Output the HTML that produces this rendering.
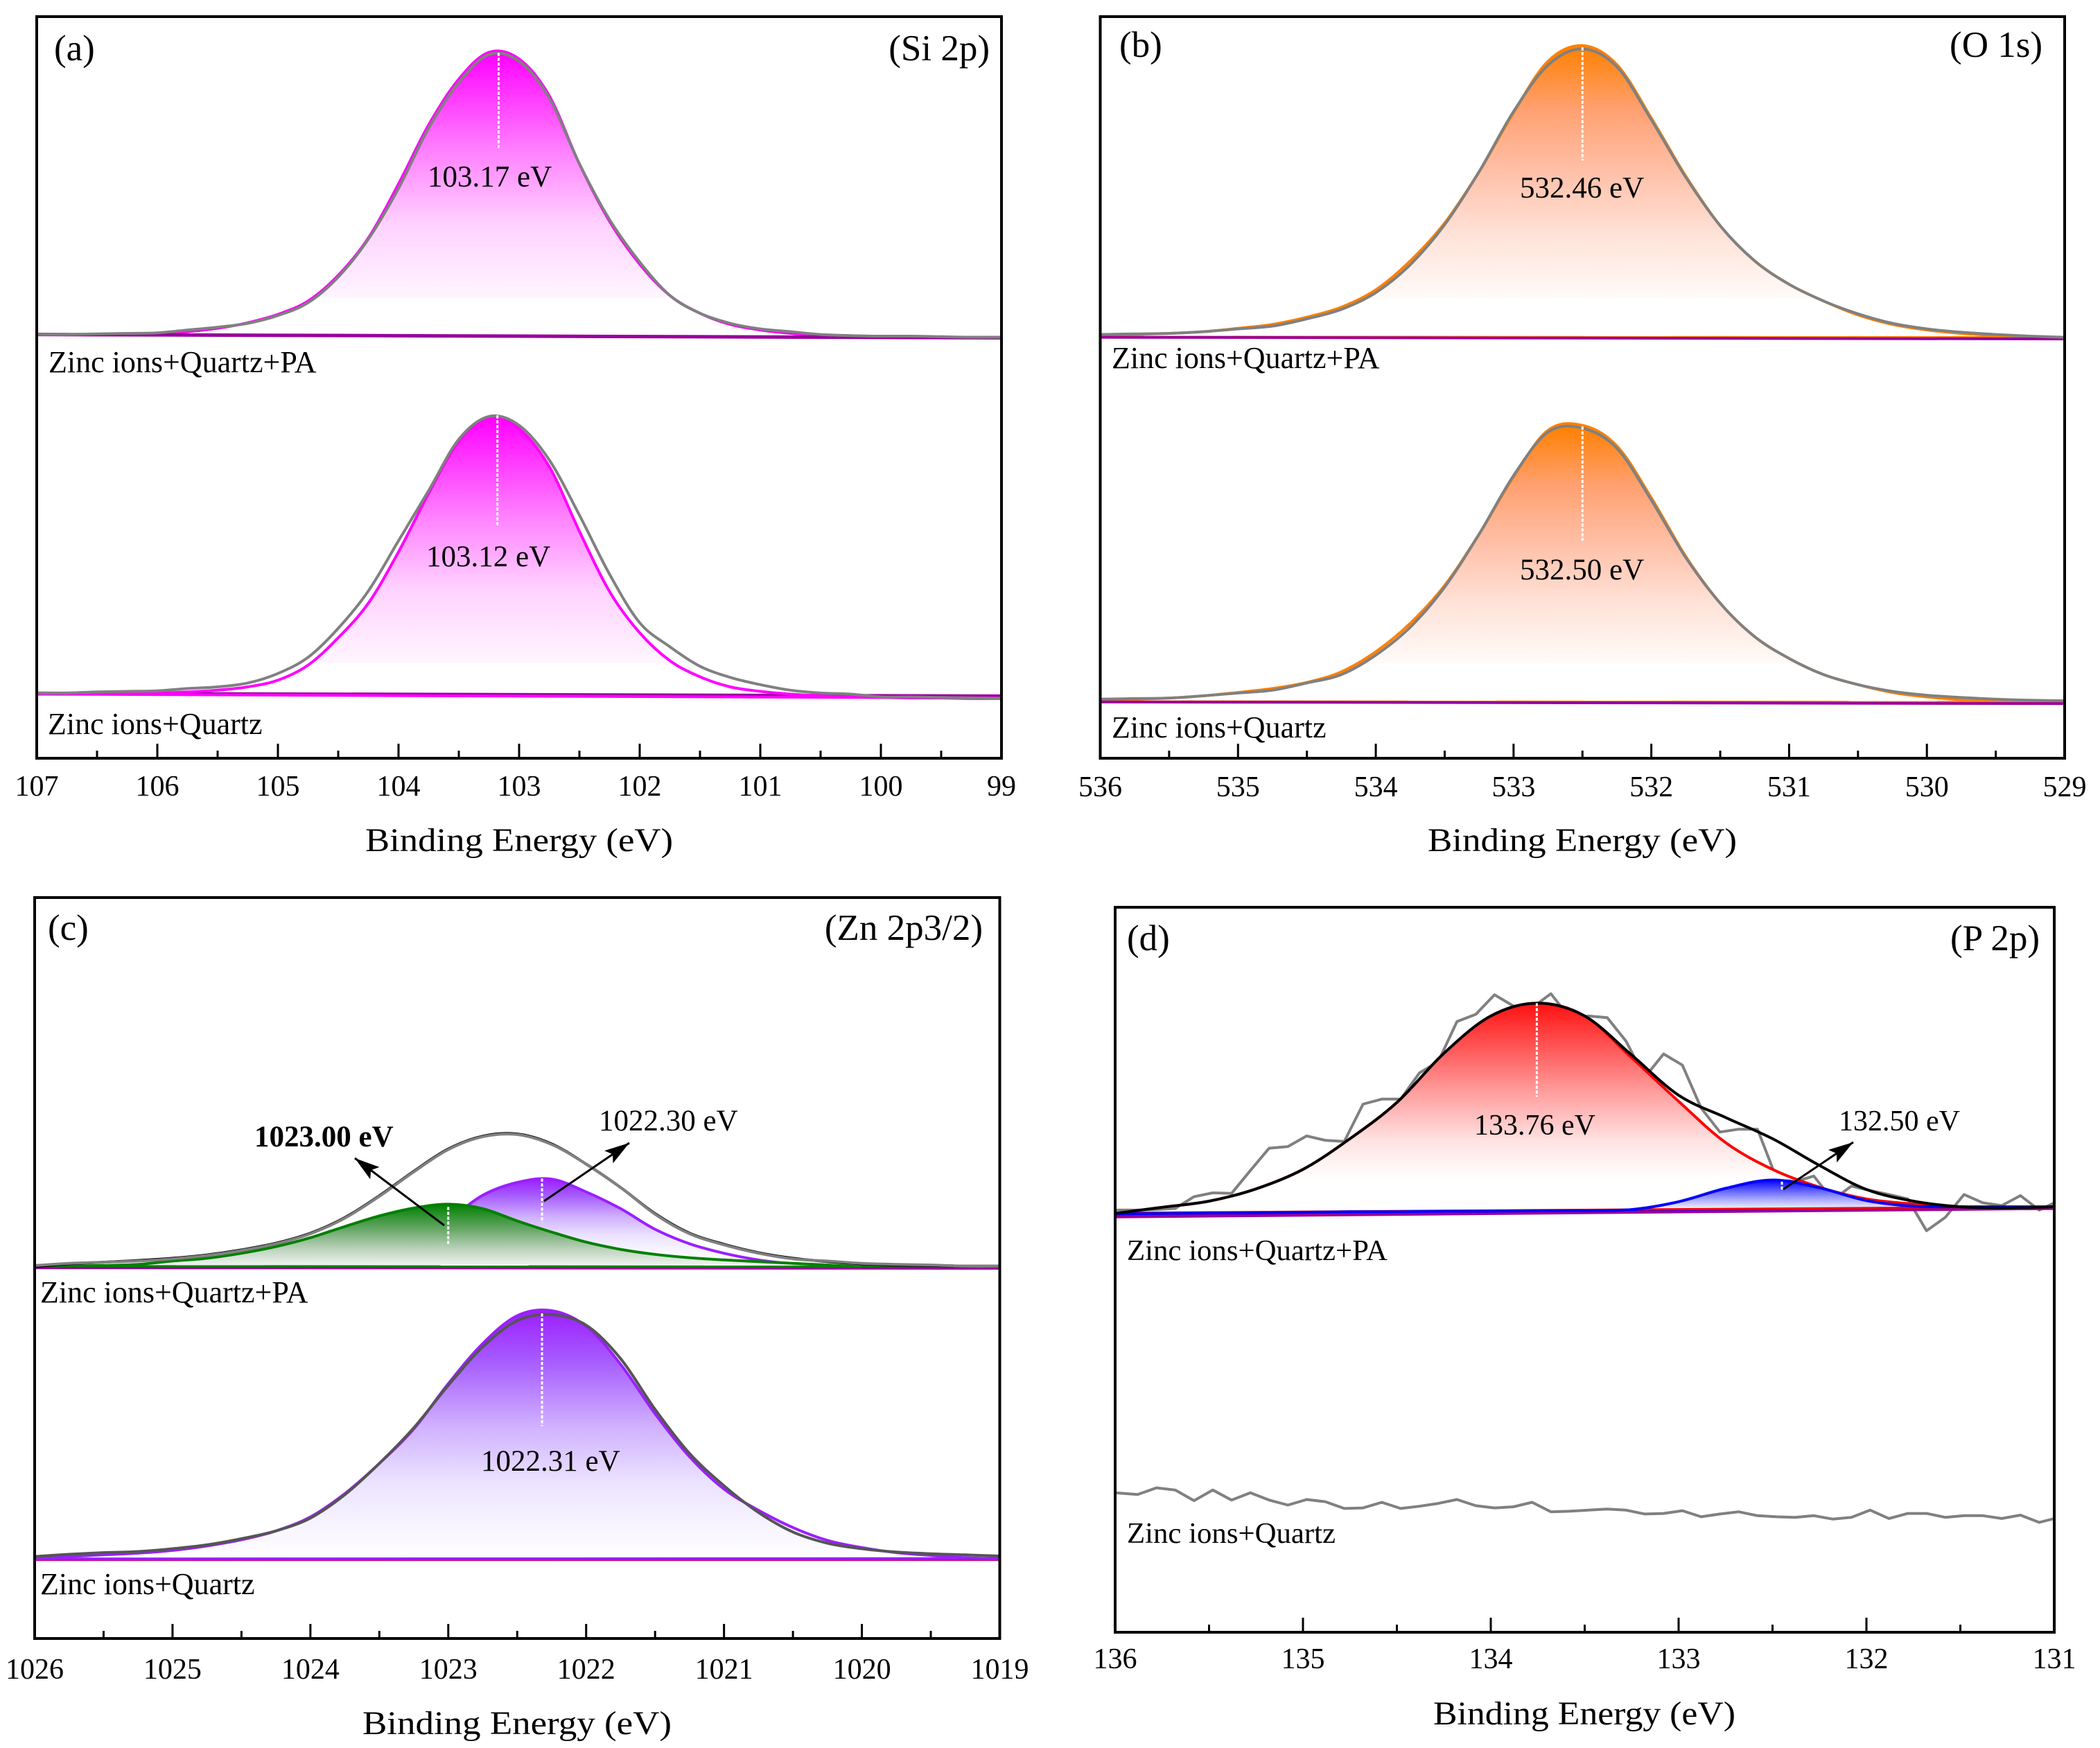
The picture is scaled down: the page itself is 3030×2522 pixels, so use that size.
<!DOCTYPE html>
<html lang="en">
<head>
<meta charset="utf-8">
<title>XPS spectra of zinc ions on quartz with and without PA</title>
<style>
html,body{margin:0;padding:0;background:#fff;}
svg{display:block;}
text{font-family:"Liberation Serif","Times New Roman",serif;fill:#000;}
.lab{font-size:44px;}
.lab-d{font-size:42.8px;}
.val{font-size:43px;}
.val-d{font-size:42px;}
.tag{font-size:53px;}
.tick{font-size:42px;text-anchor:middle;}
.axt{font-size:48px;text-anchor:middle;}
</style>
</head>
<body>
<svg id="figure" xmlns="http://www.w3.org/2000/svg" width="3030" height="2522" viewBox="0 0 3030 2522">
  <defs>
    <marker id="arrowhead" viewBox="0 0 36 22" refX="36" refY="11" markerWidth="36" markerHeight="22" markerUnits="userSpaceOnUse" orient="auto">
      <path d="M0,0 L36,11 L0,22 L7,11 z" fill="#000"/>
    </marker>
  </defs>
  <rect x="0" y="0" width="3030" height="2522" fill="#fff"/>
  <g id="marks"></g>

  <!-- panel a -->
  <text class="tag" x="78" y="87">(a)</text>
  <text class="tag" x="1428" y="87" text-anchor="end">(Si 2p)</text>
  <text class="val" x="617" y="269">103.17 eV</text>
  <text class="val" x="615" y="817">103.12 eV</text>
  <text class="lab" x="70" y="537">Zinc ions+Quartz+PA</text>
  <text class="lab" x="69" y="1059">Zinc ions+Quartz</text>
  <text class="axt" x="749" y="1228" textLength="444" lengthAdjust="spacingAndGlyphs">Binding Energy (eV)</text>

  <!-- panel b -->
  <text class="tag" x="1615" y="82">(b)</text>
  <text class="tag" x="2947" y="82" text-anchor="end">(O 1s)</text>
  <text class="val" x="2193" y="285">532.46 eV</text>
  <text class="val" x="2193" y="836">532.50 eV</text>
  <text class="lab" x="1604" y="531">Zinc ions+Quartz+PA</text>
  <text class="lab" x="1604" y="1064">Zinc ions+Quartz</text>
  <text class="axt" x="2283" y="1228" textLength="446" lengthAdjust="spacingAndGlyphs">Binding Energy (eV)</text>

  <!-- panel c -->
  <text class="tag" x="69" y="1356">(c)</text>
  <text class="tag" x="1418" y="1356" text-anchor="end">(Zn 2p3/2)</text>
  <text class="val" font-weight="bold" x="367" y="1654">1023.00 eV</text>
  <text class="val" x="864" y="1631">1022.30 eV</text>
  <text class="val" x="694" y="2122">1022.31 eV</text>
  <text class="lab" x="58" y="1879">Zinc ions+Quartz+PA</text>
  <text class="lab" x="58" y="2300">Zinc ions+Quartz</text>
  <text class="axt" x="746" y="2502" textLength="446" lengthAdjust="spacingAndGlyphs">Binding Energy (eV)</text>
  <line x1="641" y1="1768" x2="512" y2="1671" stroke="#000" stroke-width="3" marker-end="url(#arrowhead)"/>
  <line x1="785" y1="1733" x2="908" y2="1649" stroke="#000" stroke-width="3" marker-end="url(#arrowhead)"/>

  <!-- panel d -->
  <text class="tag" x="1626" y="1371">(d)</text>
  <text class="tag" x="2943" y="1371" text-anchor="end">(P 2p)</text>
  <text class="val-d" x="2127" y="1637">133.76 eV</text>
  <text class="val-d" x="2653" y="1631">132.50 eV</text>
  <text class="lab-d" x="1626" y="1818">Zinc ions+Quartz+PA</text>
  <text class="lab-d" x="1626" y="2226">Zinc ions+Quartz</text>
  <text class="axt" x="2286" y="2488" textLength="436" lengthAdjust="spacingAndGlyphs">Binding Energy (eV)</text>
  <line x1="2573" y1="1716" x2="2674" y2="1648" stroke="#000" stroke-width="3" marker-end="url(#arrowhead)"/>
</svg>

<script>
/* ---------- panel a: Si 2p ---------- */
const aEnergies = [107,106.75,106.5,106.25,106,105.75,105.5,105.25,105,104.75,104.5,104.25,104,103.75,103.5,103.25,103,102.75,102.5,102.25,102,101.75,101.5,101.25,101,100.75,100.5,100.25,100,99.75,99.5,99.25,99];
const aPaRaw = [760,760,761,762,763,768,773,780,794,817,863,931,1022,1130,1212,1262,1250,1184,1066,966,890,830,798,780,770,765,760,758,757,757,756,755,755];
const aPaFit = [760,760,760,761,762,765,771,781,796,820,866,933,1030,1136,1218,1266,1254,1188,1066,963,886,830,798,778,768,762,758,757,756,756,755,755,755];
const aQzRaw = [117,117,119,120,121,125,128,135,152,181,233,300,390,480,572,613,597,535,436,330,243,200,165,145,132,122,117,115,110,110,109,108,107];
const aQzFit = [117,117,117,117,117,119,122,128,140,167,216,278,370,475,568,612,591,523,407,299,225,175,146,128,120,115,112,110,109,108,108,107,107];
const aTicks = [107,106,105,104,103,102,101,100,99];

/* ---------- panel b: O 1s ---------- */
const bEnergies = [536,535.75,535.5,535.25,535,534.75,534.5,534.25,534,533.75,533.5,533.25,533,532.75,532.5,532.25,532,531.75,531.5,531.25,531,530.75,530.5,530.25,530,529.75,529.5,529.25,529];
const bPaRaw = [760,761,762,765,770,775,788,805,835,885,957,1052,1160,1243,1272,1240,1145,1042,955,892,850,820,797,780,770,764,760,757,755];
const bPaFit = [758,760,762,765,771,778,791,809,840,892,960,1052,1158,1250,1278,1244,1148,1044,955,892,850,820,795,778,768,762,758,755,754];
const bQzRaw = [106,107,108,112,117,122,135,150,185,235,307,402,507,585,592,556,463,360,278,218,179,150,132,120,113,109,106,104,103];
const bQzFit = [104,106,108,112,118,125,136,155,191,242,310,402,505,588,597,560,467,362,278,218,179,150,132,118,110,105,102,100,99];
const bTicks = [536,535,534,533,532,531,530,529];

/* ---------- panel c: Zn 2p3/2 ---------- */
const cEnergies = [1026,1025.75,1025.5,1025.25,1025,1024.75,1024.5,1024.25,1024,1023.75,1023.5,1023.25,1023,1022.75,1022.5,1022.25,1022,1021.75,1021.5,1021.25,1021,1020.75,1020.5,1020.25,1020,1019.75,1019.5,1019.25,1019];
const cPaRaw = [669,673,675,677,681,687,696,708,726,754,793,837,877,900,904,886,851,809,761,726,706,691,681,677,673,671,670,668,668];
const cPaFit = [667,672,675,678,682,688,697,709,727,755,794,838,878,901,905,887,851,809,762,727,707,692,682,676,672,670,669,668,668];
const cPaViolet = [666,666,666,666,666,667,668,669,672,678,691,716,751,795,818,824,801,771,734,708,691,679,672,668,666,666,666,666,666];
const cPaGreen = [667,668,669,671,677,682,691,703,719,739,758,772,779,771,749,729,711,698,689,683,679,676,673,670,667,666,666,666,666];
const cQzRaw = [147,151,154,156,161,168,179,193,216,258,314,378,454,523,570,581,562,502,411,332,274,226,191,171,161,155,152,150,148];
const cQzFit = [143,147,150,153,158,166,177,193,218,260,314,376,457,529,579,588,560,492,403,326,268,230,199,176,163,154,149,145,143];
const cTicks = [1026,1025,1024,1023,1022,1021,1020,1019];

/* ---------- panel d: P 2p ---------- */
const dRawEnergies = [136,135.88,135.78,135.68,135.58,135.48,135.38,135.28,135.18,135.08,134.98,134.88,134.78,134.68,134.58,134.48,134.38,134.28,134.18,134.08,133.98,133.88,133.78,133.68,133.58,133.48,133.38,133.28,133.18,133.08,132.98,132.88,132.78,132.68,132.58,132.48,132.38,132.28,132.18,132.08,131.98,131.88,131.78,131.68,131.58,131.48,131.38,131.28,131.18,131.08,131];
const dPaRaw = [757,757,758,760,781,788,787,828,868,871,890,882,880,947,956,956,1003,1023,1095,1108,1143,1123,1120,1145,1102,1105,1102,1060,995,1037,1017,940,897,902,902,815,808,818,775,800,792,785,777,720,744,785,770,765,783,757,770];
const dQzRaw = [250,247,259,255,236,255,237,250,237,228,238,234,222,223,233,222,226,231,238,227,223,225,233,216,217,219,221,219,212,213,218,207,212,216,209,207,206,209,203,206,219,204,213,213,206,209,209,204,210,197,204];
const dFitEnergies = [136,135.75,135.5,135.25,135,134.75,134.5,134.25,134,133.75,133.5,133.25,133,132.75,132.5,132.25,132,131.75,131.5,131.25,131];
const dPaEnvelope = [751,762,773,795,830,885,950,1038,1105,1128,1105,1035,963,923,885,837,794,773,763,761,763];
const dPaRed = [751,762,773,795,830,885,950,1038,1105,1128,1105,1030,952,878,830,798,777,768,763,761,763];
const dPaBlue = [750,751,752,752,753,754,754,755,755,756,756,758,772,796,811,797,774,764,763,763,763];
const dTicks = [136,135,134,133,132,131];

/* ---------- fill colour ramps ---------- */
const magentaRamp = [[0,'#ff00ff'],[0.4,'#ff80ff'],[0.7,'#ffd2ff'],[1,'#fff6ff']];
const orangeRamp = [[0,'#ff8000'],[0.25,'#ffa070'],[0.5,'#ffc0a8'],[0.75,'#ffe2d8'],[1,'#fffbf9']];
const violetRamp = [[0,'#9b1fff'],[0.22,'#a860ff'],[0.47,'#d0b0ff'],[0.7,'#ebe2ff'],[0.89,'#f8f5ff'],[1,'#fefdff']];
const greenRamp = [[0,'#008000'],[0.4,'#6aa86a'],[0.7,'#bcd2bc'],[1,'#f8faf8']];
const redRamp = [[0,'#ff1010'],[0.5,'#ff9c9c'],[0.78,'#ffe2e2'],[1,'#ffffff']];
const blueRamp = [[0,'#0000ff'],[0.5,'#8080ff'],[1,'#f0f0ff']];

/* ---------- panel frames and axis functions ---------- */
const panelA = {id:'a',left:53,right:1445,top:24,bottom:1094,eStart:107,eEnd:99,vMax:1330,tickBase:1148};
const panelB = {id:'b',left:1587.5,right:2979,top:24,bottom:1094,eStart:536,eEnd:529,vMax:1330,tickBase:1149};
const panelC = {id:'c',left:50,right:1442.5,top:1295,bottom:2364,eStart:1026,eEnd:1019,vMax:1329,tickBase:2422};
const panelD = {id:'d',left:1609,right:2964,top:1309,bottom:2355,eStart:136,eEnd:131,vMax:1300,tickBase:2407};

const SVG_NS = 'http://www.w3.org/2000/svg';
const svgRoot = document.getElementById('figure');
const defs = svgRoot.querySelector('defs');
const marks = document.getElementById('marks');

function xScale(p, e) {
  return p.left + (p.eStart - e) / (p.eStart - p.eEnd) * (p.right - p.left);
}
function yScale(p, v) {
  return p.bottom - v / p.vMax * (p.bottom - p.top);
}
function toPoints(p, energies, values) {
  return energies.map(function (e, i) { return [xScale(p, e), yScale(p, values[i])]; });
}
function smoothPath(pts) {
  let d = 'M' + pts[0][0].toFixed(1) + ',' + pts[0][1].toFixed(1);
  for (let i = 0; i < pts.length - 1; i++) {
    const p0 = pts[Math.max(i - 1, 0)];
    const p1 = pts[i];
    const p2 = pts[i + 1];
    const p3 = pts[Math.min(i + 2, pts.length - 1)];
    d += ' C' + (p1[0] + (p2[0] - p0[0]) / 6).toFixed(1) + ',' + (p1[1] + (p2[1] - p0[1]) / 6).toFixed(1) +
         ' ' + (p2[0] - (p3[0] - p1[0]) / 6).toFixed(1) + ',' + (p2[1] - (p3[1] - p1[1]) / 6).toFixed(1) +
         ' ' + p2[0].toFixed(1) + ',' + p2[1].toFixed(1);
  }
  return d;
}
function linePath(pts) {
  return 'M' + pts.map(function (q) { return q[0].toFixed(1) + ',' + q[1].toFixed(1); }).join(' L');
}

function drawCurve(p, name, energies, values, color, width, smooth) {
  const el = document.createElementNS(SVG_NS, 'path');
  
  
  const pts = toPoints(p, energies, values);
  el.setAttribute('d', smooth ? smoothPath(pts) : linePath(pts));
  el.setAttribute('fill', 'none');
  el.setAttribute('stroke', color);
  el.setAttribute('stroke-width', width);
  el.setAttribute('stroke-linejoin', 'round');
  marks.appendChild(el);
}

function drawFill(p, name, energies, values, floorValue, ramp) {
  const pts = toPoints(p, energies, values);
  const peak = Math.min.apply(null, pts.map(function (q) { return q[1]; }));
  const floorY = yScale(p, floorValue);
  const gradId = 'grad-' + name;
  const clipId = 'clip-' + name;
  const grad = document.createElementNS(SVG_NS, 'linearGradient');
  grad.setAttribute('id', gradId);
  grad.setAttribute('gradientUnits', 'userSpaceOnUse');
  grad.setAttribute('x1', 0);
  grad.setAttribute('x2', 0);
  grad.setAttribute('y1', peak);
  grad.setAttribute('y2', floorY);
  ramp.forEach(function (entry) {
    const stop = document.createElementNS(SVG_NS, 'stop');
    stop.setAttribute('offset', entry[0]);
    stop.setAttribute('stop-color', entry[1]);
    grad.appendChild(stop);
  });
  defs.appendChild(grad);
  const clip = document.createElementNS(SVG_NS, 'clipPath');
  clip.setAttribute('id', clipId);
  const r = document.createElementNS(SVG_NS, 'rect');
  r.setAttribute('x', p.left);
  r.setAttribute('y', peak - 5);
  r.setAttribute('width', p.right - p.left);
  r.setAttribute('height', floorY - peak + 5);
  clip.appendChild(r);
  defs.appendChild(clip);
  const el = document.createElementNS(SVG_NS, 'path');
  
  
  el.setAttribute('d', smoothPath(pts) + ' L' + p.right + ',' + (floorY + 10) + ' L' + p.left + ',' + (floorY + 10) + ' Z');
  el.setAttribute('fill', 'url(#' + gradId + ')');
  el.setAttribute('clip-path', 'url(#' + clipId + ')');
  marks.appendChild(el);
}

function drawDrop(p, name, energy, vTop, vBottom) {
  const el = document.createElementNS(SVG_NS, 'line');
  
  
  el.setAttribute('x1', xScale(p, energy));
  el.setAttribute('x2', xScale(p, energy));
  el.setAttribute('y1', yScale(p, vTop));
  el.setAttribute('y2', yScale(p, vBottom));
  el.setAttribute('stroke', '#fff');
  el.setAttribute('stroke-width', 3);
  el.setAttribute('stroke-dasharray', '4.5 2.5');
  marks.appendChild(el);
}

function drawBaseline(p, name, e0, e1, v0, v1, color, width) {
  const el = document.createElementNS(SVG_NS, 'line');
  
  
  el.setAttribute('x1', xScale(p, e0));
  el.setAttribute('x2', xScale(p, e1));
  el.setAttribute('y1', yScale(p, v0));
  el.setAttribute('y2', yScale(p, v1));
  el.setAttribute('stroke', color);
  el.setAttribute('stroke-width', width);
  marks.appendChild(el);
}

function drawAxes(p, ticks) {
  const frame = document.createElementNS(SVG_NS, 'rect');
  
  
  frame.setAttribute('x', p.left);
  frame.setAttribute('y', p.top);
  frame.setAttribute('width', p.right - p.left);
  frame.setAttribute('height', p.bottom - p.top);
  frame.setAttribute('fill', 'none');
  frame.setAttribute('stroke', '#000');
  frame.setAttribute('stroke-width', 4);
  marks.appendChild(frame);
  ticks.forEach(function (t, i) {
    const major = document.createElementNS(SVG_NS, 'line');
    
    
    major.setAttribute('x1', xScale(p, t));
    major.setAttribute('x2', xScale(p, t));
    major.setAttribute('y1', p.bottom);
    major.setAttribute('y2', p.bottom - 21);
    major.setAttribute('stroke', '#000');
    major.setAttribute('stroke-width', 3);
    marks.appendChild(major);
    const label = document.createElementNS(SVG_NS, 'text');
    
    
    label.setAttribute('class', 'tick');
    label.setAttribute('x', xScale(p, t));
    label.setAttribute('y', p.tickBase);
    label.textContent = String(t);
    marks.appendChild(label);
    if (i < ticks.length - 1) {
      const minor = document.createElementNS(SVG_NS, 'line');
      const mid = (t + ticks[i + 1]) / 2;
      
      
      minor.setAttribute('x1', xScale(p, mid));
      minor.setAttribute('x2', xScale(p, mid));
      minor.setAttribute('y1', p.bottom);
      minor.setAttribute('y2', p.bottom - 11);
      minor.setAttribute('stroke', '#000');
      minor.setAttribute('stroke-width', 3);
      marks.appendChild(minor);
    }
  });
}

/* ---------- draw panel a ---------- */
drawFill(panelA, 'a-pa-fit-fill', aEnergies, aPaFit, 825, magentaRamp);
drawCurve(panelA, 'a-pa-fit-line', aEnergies, aPaFit, '#ff00ff', 4, true);
drawBaseline(panelA, 'a-pa-baseline', 107, 99, 760, 754, '#99009c', 5);
drawCurve(panelA, 'a-pa-raw-line', aEnergies, aPaRaw, '#808080', 4, true);
drawDrop(panelA, 'a-pa-peak-marker', 103.17, 1265, 1092);
drawFill(panelA, 'a-quartz-fit-fill', aEnergies, aQzFit, 170, magentaRamp);
drawBaseline(panelA, 'a-quartz-baseline-dark', 107, 99, 117, 112, '#99009c', 4);
drawBaseline(panelA, 'a-quartz-baseline', 107, 99, 115, 108, '#ff00ff', 4);
drawCurve(panelA, 'a-quartz-fit-line', aEnergies, aQzFit, '#ff00ff', 4, true);
drawCurve(panelA, 'a-quartz-raw-line', aEnergies, aQzRaw, '#808080', 4, true);
drawDrop(panelA, 'a-quartz-peak-marker', 103.18, 615, 415);
drawAxes(panelA, aTicks);

/* ---------- draw panel b ---------- */
drawFill(panelB, 'b-pa-fit-fill', bEnergies, bPaFit, 825, orangeRamp);
drawCurve(panelB, 'b-pa-fit-line', bEnergies, bPaFit, '#ff8000', 4, true);
drawBaseline(panelB, 'b-pa-baseline-orange', 536, 529, 756, 755, '#ff8000', 3);
drawBaseline(panelB, 'b-pa-baseline', 536, 529, 755, 752, '#99009c', 4);
drawCurve(panelB, 'b-pa-raw-line', bEnergies, bPaRaw, '#808080', 4, true);
drawDrop(panelB, 'b-pa-peak-marker', 532.5, 1275, 1072);
drawFill(panelB, 'b-quartz-fit-fill', bEnergies, bQzFit, 170, orangeRamp);
drawCurve(panelB, 'b-quartz-fit-line', bEnergies, bQzFit, '#ff8000', 4, true);
drawBaseline(panelB, 'b-quartz-baseline-orange', 536, 529, 102, 101, '#ff8000', 3);
drawBaseline(panelB, 'b-quartz-baseline', 536, 529, 101, 98, '#99009c', 4);
drawCurve(panelB, 'b-quartz-raw-line', bEnergies, bQzRaw, '#808080', 4, true);
drawDrop(panelB, 'b-quartz-peak-marker', 532.5, 595, 390);
drawAxes(panelB, bTicks);

/* ---------- draw panel c ---------- */
drawFill(panelC, 'c-pa-violet-fill', cEnergies, cPaViolet, 680, violetRamp);
drawCurve(panelC, 'c-pa-violet-line', cEnergies, cPaViolet, '#9b1fff', 4, true);
drawDrop(panelC, 'c-pa-violet-peak-marker', 1022.32, 825, 746);
drawFill(panelC, 'c-pa-green-fill', cEnergies, cPaGreen, 664, greenRamp);
drawCurve(panelC, 'c-pa-green-line', cEnergies, cPaGreen, '#008000', 4, true);
drawBaseline(panelC, 'c-pa-baseline', 1026, 1019, 665, 664, '#99009c', 4);
drawBaseline(panelC, 'c-pa-baseline-green', 1026, 1020, 668, 667, '#008000', 3);
drawCurve(panelC, 'c-pa-envelope-line', cEnergies, cPaFit, '#000000', 4, true);
drawCurve(panelC, 'c-pa-raw-line', cEnergies, cPaRaw, '#808080', 4, true);
drawDrop(panelC, 'c-pa-green-peak-marker', 1023, 774, 706);
drawFill(panelC, 'c-quartz-fit-fill', cEnergies, cQzFit, 150, violetRamp);
drawBaseline(panelC, 'c-quartz-baseline-dark', 1026, 1019, 142, 142, '#c0108c', 5);
drawBaseline(panelC, 'c-quartz-baseline', 1026, 1019, 143, 144, '#9b1fff', 3);
drawCurve(panelC, 'c-quartz-fit-line', cEnergies, cQzFit, '#9b1fff', 4, true);
drawCurve(panelC, 'c-quartz-raw-line', cEnergies, cQzRaw, '#555555', 4, true);
drawDrop(panelC, 'c-quartz-peak-marker', 1022.32, 583, 381);
drawAxes(panelC, cTicks);

/* ---------- draw panel d ---------- */
drawCurve(panelD, 'd-pa-raw-line', dRawEnergies, dPaRaw, '#808080', 4, false);
drawFill(panelD, 'd-pa-red-fill', dFitEnergies, dPaRed, 812, redRamp);
drawBaseline(panelD, 'd-pa-baseline', 136, 131, 746, 761, '#99009c', 6);
drawFill(panelD, 'd-pa-blue-fill', dFitEnergies, dPaBlue, 760, blueRamp);
drawBaseline(panelD, 'd-pa-baseline-blue', 136, 131, 750, 763, '#0000ff', 3);
drawBaseline(panelD, 'd-pa-baseline-red', 136, 131, 752, 763, '#ff0000', 3);
drawCurve(panelD, 'd-pa-red-line', dFitEnergies, dPaRed, '#ff0000', 4, true);
drawCurve(panelD, 'd-pa-blue-line', dFitEnergies, dPaBlue, '#0000ff', 4, true);
drawCurve(panelD, 'd-pa-envelope-line', dFitEnergies, dPaEnvelope, '#000000', 4, true);
drawDrop(panelD, 'd-pa-red-peak-marker', 133.755, 1128, 960);
drawDrop(panelD, 'd-pa-blue-peak-marker', 132.45, 808, 792);
drawCurve(panelD, 'd-quartz-raw-line', dRawEnergies, dQzRaw, '#808080', 4, false);
drawAxes(panelD, dTicks);
</script>
</body>
</html>
